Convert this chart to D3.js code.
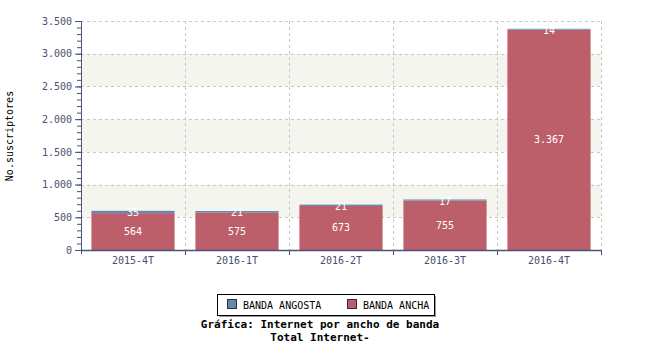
<!DOCTYPE html>
<html>
<head>
<meta charset="utf-8">
<script src="https://cdn.jsdelivr.net/npm/d3@7"></script>
<style>
  body { margin: 0; background: #fff; }
  text { font-family: "DejaVu Sans Mono", monospace; }
</style>
</head>
<body>
<div class="chart"></div>
<script>
// data
var periods = ["2015-4T", "2016-1T", "2016-2T", "2016-3T", "2016-4T"];
var bandaAncha = [564, 575, 673, 755, 3367];
var bandaAngosta = [35, 21, 21, 17, 14];
var yTicks = [0, 500, 1000, 1500, 2000, 2500, 3000, 3500];
var seriesNames = ["BANDA ANGOSTA", "BANDA ANCHA"];
var colors = {angosta: "#6289b5", ancha: "#bd5f6b"};

var margin = {top: 21, right: 49, bottom: 100, left: 81},
    width = 650 - margin.left - margin.right,
    height = 350 - margin.top - margin.bottom;

var loc = d3.formatLocale({decimal: ",", thousands: ".", grouping: [3], currency: ["$", ""]});
var fmt = loc.format(",d");

var svg = d3.select(".chart").append("svg")
    .attr("width", 650).attr("height", 350);
var g = svg.append("g")
    .attr("transform", "translate(" + margin.left + "," + margin.top + ")");

var x = d3.scaleBand().domain(periods).range([0, width])
    .paddingInner(0.2).paddingOuter(0.1);
var y = d3.scaleLinear().domain([0, 3500]).range([height, 0]);

// alternating background bands
[[500, 1000], [1500, 2000], [2500, 3000]].forEach(function(b) {
  g.append("rect")
    .attr("x", 0).attr("width", width)
    .attr("y", y(b[1])).attr("height", y(b[0]) - y(b[1]))
    .attr("fill", "#f5f5f0");
});

// boundary positions between categories
function edge(d) { return Math.round(x(d) + x.bandwidth() + x.step() * x.paddingInner() / 2) + 0.5; }

// grid lines
g.selectAll(".hgrid").data(yTicks.slice(1)).enter().append("line")
  .attr("x1", 0).attr("x2", width)
  .attr("y1", function(d) { return Math.round(y(d)) + 0.5; })
  .attr("y2", function(d) { return Math.round(y(d)) + 0.5; })
  .attr("stroke", "#c8c8c8").attr("stroke-dasharray", "3,3");
g.selectAll(".vgrid").data(periods).enter().append("line")
  .attr("x1", edge).attr("x2", edge)
  .attr("y1", 0).attr("y2", height)
  .attr("stroke", "#c8c8c8").attr("stroke-dasharray", "3,3");

// bars
var bars = g.selectAll(".bar").data(periods).enter().append("g");
bars.append("rect")
  .attr("x", function(d) { return x(d); })
  .attr("width", x.bandwidth())
  .attr("y", function(d, i) { return y(bandaAncha[i]); })
  .attr("height", function(d, i) { return height - y(bandaAncha[i]); })
  .attr("fill", colors.ancha);
bars.append("rect")
  .attr("x", function(d) { return x(d); })
  .attr("width", x.bandwidth())
  .attr("y", function(d, i) { return y(bandaAncha[i] + bandaAngosta[i]); })
  .attr("height", function(d, i) { return y(bandaAncha[i]) - y(bandaAncha[i] + bandaAngosta[i]); })
  .attr("fill", colors.angosta);

// value labels
bars.append("text")
  .attr("x", function(d) { return x(d) + x.bandwidth() / 2; })
  .attr("y", function(d, i) { return y(bandaAncha[i] / 2); })
  .attr("dy", "0.35em").attr("text-anchor", "middle")
  .attr("fill", "#fff").attr("font-size", "10px")
  .text(function(d, i) { return fmt(bandaAncha[i]); });
bars.append("text")
  .attr("x", function(d) { return x(d) + x.bandwidth() / 2; })
  .attr("y", function(d, i) { return y(bandaAncha[i] + bandaAngosta[i] / 2) + 1; })
  .attr("dy", "0.35em").attr("text-anchor", "middle")
  .attr("fill", "#fff").attr("font-size", "10px")
  .text(function(d, i) { return fmt(bandaAngosta[i]); });

// y axis (minor ticks first)
var axisColor = "#4a5478";
g.append("g")
  .call(d3.axisLeft(y).tickValues(d3.range(0, 3501, 100)).tickSize(4).tickFormat(""))
  .call(function(s) { s.select(".domain").remove(); s.selectAll("line").attr("stroke", axisColor); });
var yAxis = g.append("g")
  .call(d3.axisLeft(y).tickValues(yTicks).tickSize(6).tickSizeOuter(0).tickPadding(3).tickFormat(fmt));
yAxis.selectAll("line, path").attr("stroke", axisColor);
yAxis.selectAll("text").attr("fill", "#4a5070").attr("font-size", "10px")
  .attr("font-family", "DejaVu Sans Mono, monospace");
yAxis.select(".domain").attr("d", "M0.5,0V" + (height + 4));

// x axis
var xAxis = g.append("g").attr("transform", "translate(0," + height + ")")
  .call(d3.axisBottom(x).tickSize(0).tickPadding(7));
xAxis.select(".domain").attr("stroke", axisColor).attr("stroke-width", 1.5);
xAxis.selectAll("text").attr("fill", "#4a5070").attr("font-size", "10px")
  .attr("font-family", "DejaVu Sans Mono, monospace");
g.selectAll(".xt").data(periods).enter().append("line")
  .attr("x1", edge).attr("x2", edge)
  .attr("y1", height).attr("y2", height + 5)
  .attr("stroke", axisColor);

// y axis title
svg.append("text")
  .attr("transform", "translate(13," + 136 + ") rotate(-90)")
  .attr("text-anchor", "middle").attr("font-size", "10px").attr("fill", "#000")
  .text("No.suscriptores");

// legend
var legend = svg.append("g").attr("transform", "translate(217,294)");
legend.append("rect").attr("x", 2).attr("y", 2).attr("width", 217).attr("height", 21).attr("fill", "#999");
legend.append("rect").attr("x", 0.5).attr("y", 0.5).attr("width", 217).attr("height", 21)
  .attr("fill", "#fff").attr("stroke", "#000");
var legendItems = [{name: seriesNames[0], c: colors.angosta, x: 10}, {name: seriesNames[1], c: colors.ancha, x: 130}];
legendItems.forEach(function(it) {
  legend.append("rect").attr("x", it.x + 0.5).attr("y", 5.5).attr("width", 9).attr("height", 9)
    .attr("fill", it.c).attr("stroke", "#333");
  legend.append("text").attr("x", it.x + 16).attr("y", 14.5)
    .attr("font-size", "10px").attr("fill", "#000").text(it.name);
});

// title
svg.append("text").attr("x", 320).attr("y", 328).attr("text-anchor", "middle")
  .attr("font-size", "11px").attr("font-weight", "bold").text("Gráfica: Internet por ancho de banda");
svg.append("text").attr("x", 320).attr("y", 341).attr("text-anchor", "middle")
  .attr("font-size", "11px").attr("font-weight", "bold").text("Total Internet-");
</script>
</body>
</html>
